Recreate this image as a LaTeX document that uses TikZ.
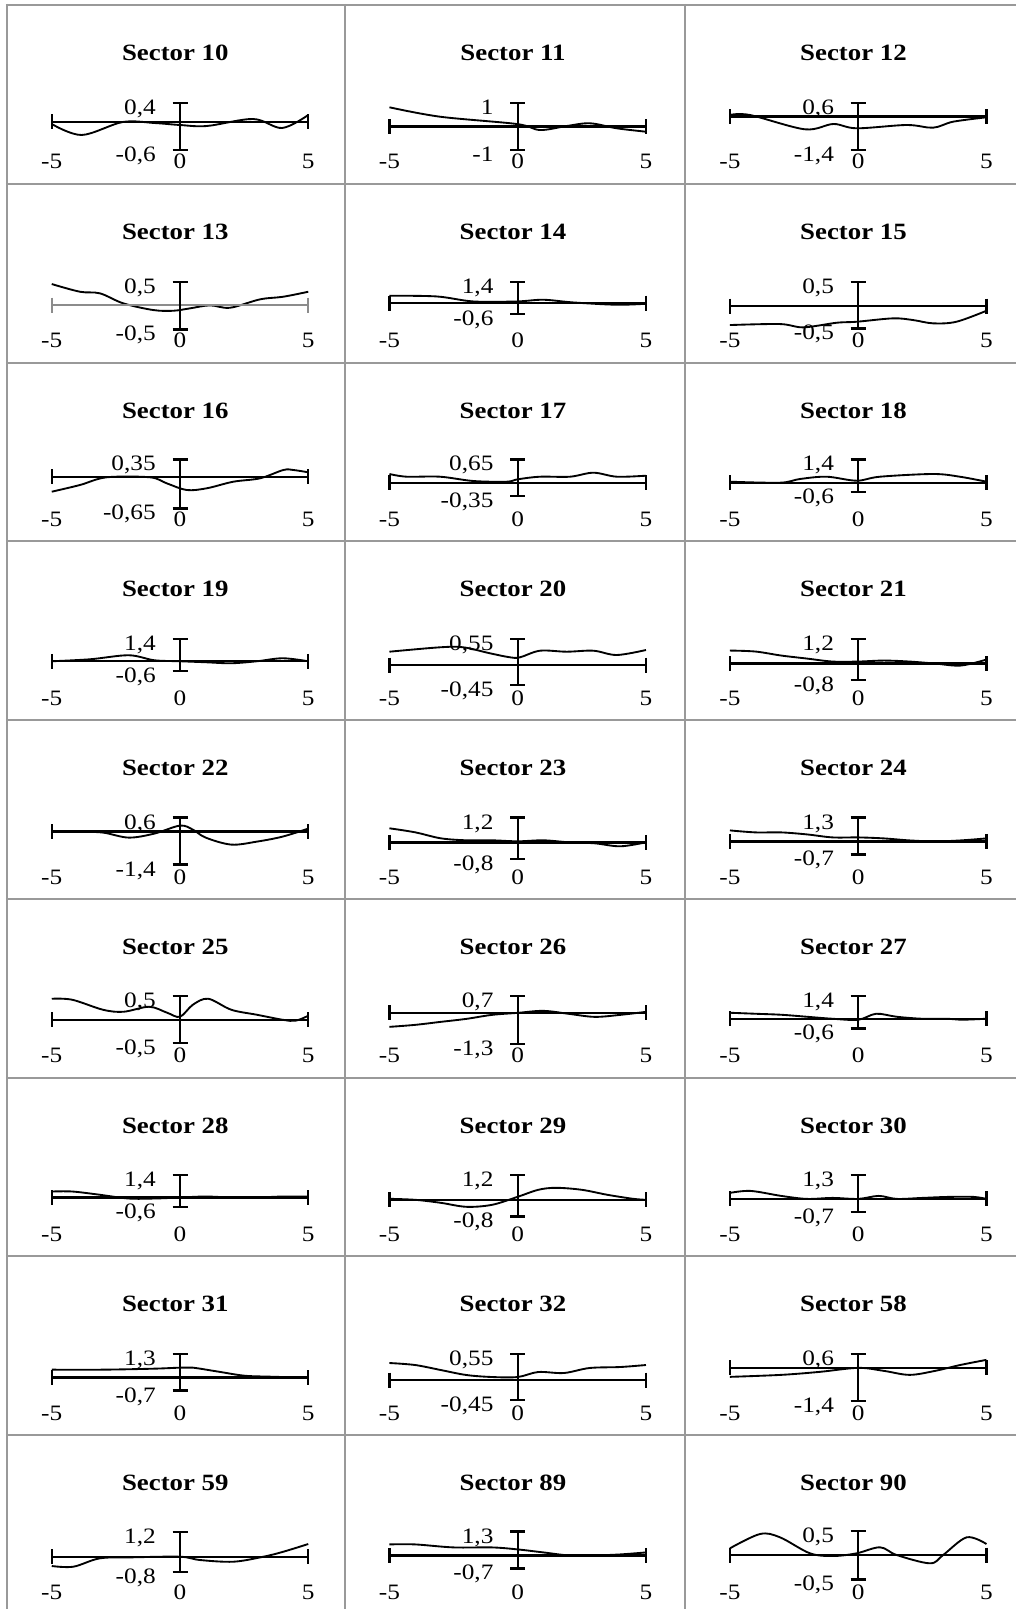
\documentclass[tikz,border=0pt]{standalone}
\usepackage{fontspec}
\setmainfont{Liberation Serif}[FakeStretch=1.15]
\tikzset{
  gridline/.style={draw=black!40, line width=1.5pt},
  axisline/.style={draw=\xaxcol, line width=1.8pt},
  yaxisline/.style={draw=black, line width=1.8pt},
  curveline/.style={draw=black, line width=1.4pt, line join=round},
  ttl/.style={font=\fontsize{17.5}{20}\selectfont\bfseries, inner sep=0pt, anchor=base},
  lab/.style={font=\fontsize{16.5}{19}\selectfont, inner sep=0pt},
}
\def\xaxcol{black}
% #1 cell left, #2 row top, #3 number, #4 top rel, #5 zero rel, #6 bottom rel, #7 top label, #8 bottom label, #9 curve
\newcommand\chartcell[9]{%
  \node[ttl] (t#3) at (#1+168.5,#2+55.5) {Sector #3};
  \begin{scope}[shift={(#1+173.2,#2+#5)}]
    \coordinate (xl#3) at (-128.25,0);
    \coordinate (xr#3) at (128.25,0);
    \coordinate (yt#3) at (0,#4-#5);
    \coordinate (yb#3) at (0,#6-#5);
    \draw[curveline, xscale=25.65] plot[smooth, tension=0.55] coordinates {#9};
    \draw[axisline] (xl#3) -- (xr#3);
    \draw[axisline] (xl#3) ++(0,-7.5) -- ++(0,15);
    \draw[axisline] (xr#3) ++(0,-7.5) -- ++(0,15);
    \draw[yaxisline] (yt#3) -- (yb#3);
    \draw[yaxisline] (yt#3) ++(-7.5,0) -- ++(15,0);
    \draw[yaxisline] (yb#3) ++(-7.5,0) -- ++(15,0);
    \node[lab, anchor=base east] (hi#3) at (-24,#4-#5+11.5) {#7};
    \node[lab, anchor=base east] (lo#3) at (-24,#6-#5+11.5) {#8};
    \node[lab, anchor=base] (xm#3) at (-128.25,164-#5) {-5};
    \node[lab, anchor=base] (xz#3) at (0,164-#5) {0};
    \node[lab, anchor=base] (xp#3) at (128.25,164-#5) {5};
  \end{scope}
}
\begin{document}
\begin{tikzpicture}[x=0.75pt,y=-0.75pt]
\useasboundingbox (0,0) rectangle (1016,1609);
\fill[white] (0,0) rectangle (1016,1609);
% grid
\foreach \k in {0,...,8} \draw[gridline] (5.8,5+178.75*\k) -- (1016,5+178.75*\k);
\foreach \xx in {6.8,344.5,685} \draw[gridline] (\xx,4) -- (\xx,1609);
% charts
\def\CA{6.8}\def\CB{344.5}\def\CC{685}
% row 1
\chartcell{\CA}{5}{10}{98}{117}{145}{0,4}{-0,6}{(-5,2) (-3.83,13) (-2.23,0) (-1,1) (0,3) (1.05,4) (2.85,-3) (3.98,6) (5,-7)}
\chartcell{\CB}{5}{11}{98}{121.7}{145}{1}{-1}{(-5,-19.4) (-3.03,-10) (-0.04,-2.7) (0.87,3.3) (1.91,-0.7) (2.82,-3.4) (3.86,1.6) (5,5)}
\chartcell{\CC}{5}{12}{98.3}{111.7}{145}{0,6}{-1,4}{(-5,-1.7) (-4.22,-1.7) (-2.08,12.6) (-0.97,7.3) (-0.06,11.6) (1.89,8.3) (2.92,11) (3.7,5) (5,0.6)}
% row 2
\begin{scope}\def\xaxcol{black!45}
\chartcell{\CA}{183.75}{13}{98}{121.3}{145.6}{0,5}{-0,5}{(-5,-21) (-3.9,-13.3) (-3.12,-11.7) (-2.21,-1.7) (-1.04,5) (-0.26,5.7) (0.39,3.3) (1.17,0.3) (1.95,2.7) (3.12,-5.7) (4.02,-8.3) (5,-13.3)}
\end{scope}
\chartcell{\CB}{183.75}{14}{98.3}{119.3}{130.3}{1,4}{-0,6}{(-5,-7.3) (-3.16,-6.6) (-1.73,-1.6) (-0.04,-1.6) (1,-3.3) (2.17,-0.6) (3.86,1.7) (5,0.7)}
\chartcell{\CC}{183.75}{15}{98}{122.3}{144.6}{0,5}{-0,5}{(-5,19) (-3.05,18) (-2.14,21.3) (-0.84,16.7) (-0.06,15.7) (1.36,12.3) (2.14,14) (2.92,17.3) (3.83,15.7) (5,4.7)}
% row 3
\chartcell{\CA}{362.5}{16}{96.8}{114.2}{145.8}{0,35}{-0,65}{(-5,15) (-3.9,8.3) (-2.86,0.6) (-1.17,0.6) (-0.52,6.6) (0.26,13.3) (1.04,11.6) (2.08,5) (3.12,1.6) (4.03,-6.7) (4.42,-6.7) (5,-4.4)}
\chartcell{\CB}{362.5}{17}{96.8}{120.2}{133.2}{0,65}{-0,35}{(-5,-8.7) (-4.33,-6) (-3.03,-6) (-1.73,-1.7) (-0.43,-1) (0,-3.4) (0.87,-6) (2.04,-6) (2.95,-10) (3.86,-6) (5,-7)}
\chartcell{\CC}{362.5}{18}{96.8}{120.2}{129.2}{1,4}{-0,6}{(-5,-1) (-3.05,0) (-2.27,-3.7) (-1.23,-6) (-0.06,-2) (0.85,-6) (2.92,-8.7) (3.96,-6) (5,-1)}
% row 4
\chartcell{\CA}{541.25}{19}{97.5}{120}{129.7}{1,4}{-0,6}{(-5,0) (-3.5,-2) (-2,-6) (-1,-1) (0,0) (1,1) (2,2) (3,0) (4,-3) (5,0)}
\chartcell{\CB}{541.25}{20}{97.75}{123.75}{143.75}{0,55}{-0,45}{(-5,-13.3) (-3.03,-17.7) (-2.12,-17.7) (-1.08,-11.7) (-0.3,-7.7) (0.09,-7.7) (0.87,-14.3) (1.91,-13.3) (2.95,-14.3) (3.86,-10) (5,-15)}
\chartcell{\CC}{541.25}{21}{97.5}{122.3}{138.9}{1,2}{-0,8}{(-5,-13) (-4,-12) (-3,-8) (-2,-5) (-1,-2) (0,-2) (1,-3) (2,-2) (3,0) (4,2) (5,-4)}
% row 5
\chartcell{\CA}{720}{22}{97.5}{111.6}{144.5}{0,6}{-1,4}{(-5,0) (-4,0) (-3,1) (-2,6) (-1,2) (0,-6) (0.5,-2) (1,6) (2,13) (3,10) (4,5) (5,-3)}
\chartcell{\CB}{720}{23}{97.5}{122.3}{138.9}{1,2}{-0,8}{(-5,-14) (-4,-10) (-3,-4) (-2,-2) (-1,-2) (0,-1) (1,-2) (2,0) (3,1) (4,4) (5,0)}
\chartcell{\CC}{720}{24}{97.5}{121.4}{134.3}{1,3}{-0,7}{(-5,-11) (-4,-9) (-3,-9) (-2,-7) (-1,-4) (0,-4) (1,-3) (2,-1) (3,0) (4,-1) (5,-3)}
% row 6
\chartcell{\CA}{898.75}{25}{97.5}{121}{144.5}{0,5}{-0,5}{(-5,-21) (-4.2,-20) (-3,-10) (-2.2,-8) (-1.2,-13) (-0.5,-7) (0,-3) (0.5,-15) (1.1,-21) (2,-10) (3,-5) (4,0) (4.5,1) (5,-4)}
\chartcell{\CB}{898.75}{26}{97.5}{114.1}{145}{0,7}{-1,3}{(-5,14) (-4,12) (-3,9) (-2,6) (-1,2) (0,0) (1,-2) (2,1) (3,4) (4,2) (5,-1)}
\chartcell{\CC}{898.75}{27}{97.5}{120}{129.7}{1,4}{-0,6}{(-5,-6) (-4,-5) (-3,-4) (-2,-2) (-1,0) (0,1) (0.7,-5) (1.5,-2) (2.5,0) (3.5,0) (4,1) (5,0)}
% row 7
\chartcell{\CA}{1077.5}{28}{97.5}{120}{129.7}{1,4}{-0,6}{(-5,-6) (-4.2,-6) (-3.2,-3) (-2,1) (-1,1) (0,0) (1,-1) (2,0) (3,0) (4,-1) (5,-1)}
\chartcell{\CB}{1077.5}{29}{97.5}{122.3}{138.9}{1,2}{-0,8}{(-5,-1) (-4,0) (-3,3) (-2,7) (-1,5) (0,-3) (0.8,-10) (1.5,-12) (2.5,-10) (3.5,-5) (4.5,-1) (5,0)}
\chartcell{\CC}{1077.5}{30}{97.5}{121.4}{134.3}{1,3}{-0,7}{(-5,-6) (-4.2,-8) (-3,-3) (-2,0) (-1,-1) (0,0) (0.8,-3) (1.5,0) (2.5,-1) (3.5,-2) (4.5,-2) (5,0)}
% row 8
\chartcell{\CA}{1256.25}{31}{97.5}{121.4}{134.3}{1,3}{-0,7}{(-5,-8) (-3,-8) (-1,-9) (0,-10) (0.5,-10) (1.5,-6) (2.5,-2) (3.5,-1) (5,0)}
\chartcell{\CB}{1256.25}{32}{97.75}{123.75}{143.75}{0,55}{-0,45}{(-5,-17) (-4,-15) (-3,-10) (-2,-5) (-1,-3) (0,-3) (0.8,-8) (1.8,-7) (2.8,-12) (4,-13) (5,-15)}
\chartcell{\CC}{1256.25}{58}{97.5}{111.6}{144.5}{0,6}{-1,4}{(-5,9) (-3,7) (-1.5,4) (0,0) (1,3) (2,7) (3,3) (4,-3) (5,-8)}
% row 9
\chartcell{\CA}{1435}{59}{96.7}{121.7}{136.7}{1,2}{-0,8}{(-5,9.3) (-4.16,10) (-3.12,1.6) (-1.82,0.6) (0,0) (0.78,3.3) (2.08,5) (3.25,0) (4.03,-5) (5,-12.7)}
\chartcell{\CB}{1435}{89}{96.5}{120.4}{133.3}{1,3}{-0,7}{(-5,-11) (-4,-11) (-2.5,-8) (-1,-8) (0,-6) (1,-3) (2,0) (3,0) (4,-1) (5,-3)}
\chartcell{\CC}{1435}{90}{95.7}{120}{144.3}{0,5}{-0,5}{(-5,-6.7) (-3.83,-21) (-3.05,-17.7) (-1.88,-1.7) (-0.97,1) (-0.06,-1.7) (0.85,-7.7) (1.5,0) (2.8,8.3) (3.31,0) (4.23,-17.7) (5,-11)}
\end{tikzpicture}
\end{document}
